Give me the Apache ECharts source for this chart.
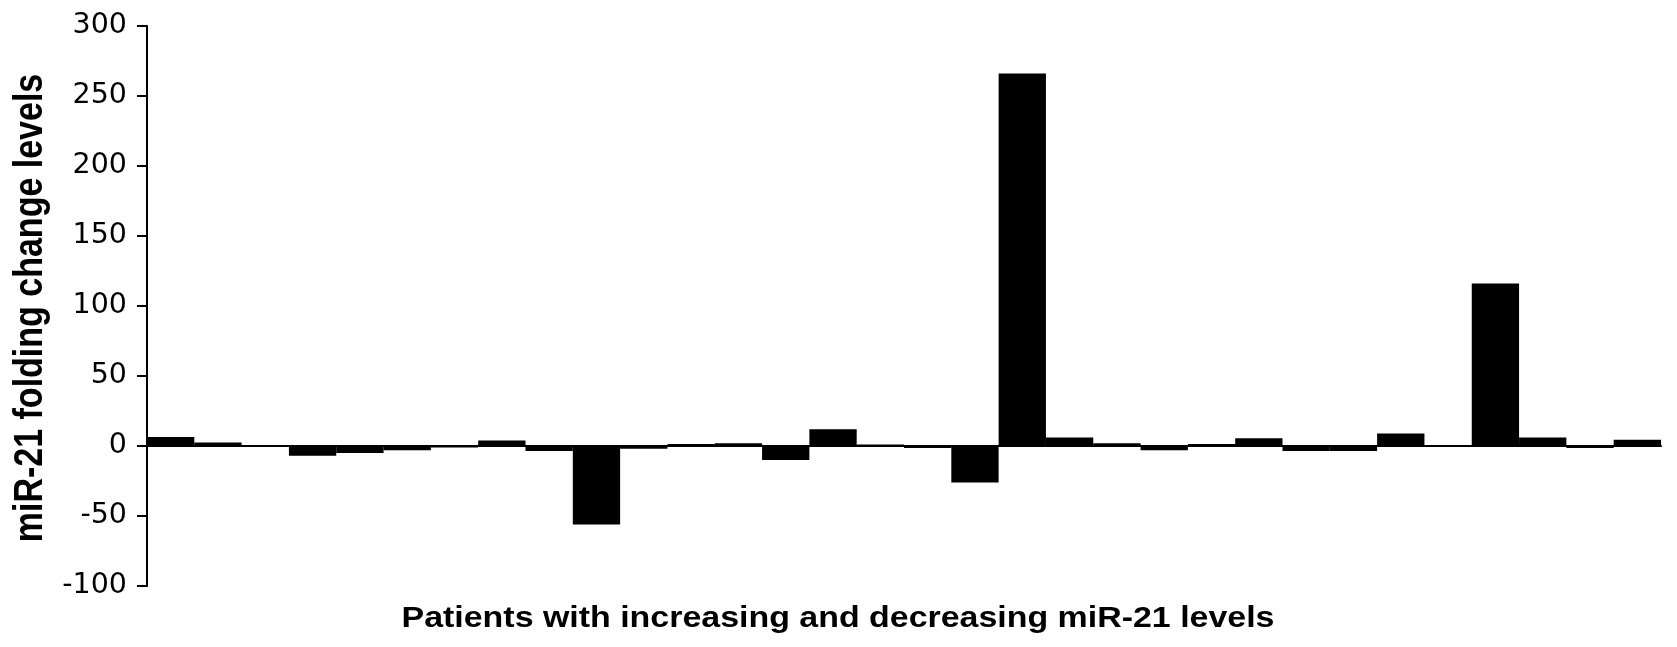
<!DOCTYPE html>
<html>
<head>
<meta charset="utf-8">
<script src="https://cdn.jsdelivr.net/npm/echarts@6/dist/echarts.min.js"></script>
<style>
html,body{margin:0;padding:0;background:#fff;}
#c{width:1677px;height:647px;}
</style>
</head>
<body>
<div id="c"></div>
<script>
var categories = ['P1','P2','P3','P4','P5','P6','P7','P8','P9','P10','P11','P12','P13','P14','P15','P16',
  'P17','P18','P19','P20','P21','P22','P23','P24','P25','P26','P27','P28','P29','P30','P31','P32'];
var values = [6.5, 2.5, -0.5, -7, -5, -3, -1, 4, -3.5, -56, -2, 1.5, 2, -10, 12, 1,
  -1.5, -26, 266, 6, 2, -3, 1.5, 5.5, -3.5, -3.5, 9, -0.5, 116, 6, -1.5, 4.5];
var yTicks = {min: -100, max: 300, interval: 50};
var yTitle = 'miR-21 folding change levels';
var xTitle = 'Patients with increasing and decreasing miR-21 levels';

var chart = echarts.init(document.getElementById('c'));
chart.setOption({
  backgroundColor: '#fff',
  animation: false,
  grid: {left: 147, right: 16, top: 26, bottom: 61, containLabel: false},
  xAxis: {
    type: 'category',
    data: categories,
    axisLine: {show: true, onZero: true, lineStyle: {color: '#000', width: 2}},
    axisTick: {show: false},
    axisLabel: {show: false},
    splitLine: {show: false}
  },
  yAxis: {
    type: 'value',
    min: yTicks.min, max: yTicks.max, interval: yTicks.interval,
    axisLine: {show: true, lineStyle: {color: '#000', width: 2}},
    axisTick: {show: true, length: 10, lineStyle: {color: '#000', width: 2}},
    axisLabel: {fontFamily: 'DejaVu Sans', fontSize: 28.5, color: '#000', margin: 20},
    splitLine: {show: false}
  },
  graphic: [{
    type: 'text',
    x: 838,
    y: 619,
    scaleX: 1.15,
    style: {text: xTitle, fontFamily: 'Liberation Sans', fontWeight: 'bold', fontSize: 29.5,
      fill: '#000', textAlign: 'center', textVerticalAlign: 'middle'}
  }, {
    type: 'text',
    x: 31,
    y: 308,
    rotation: Math.PI / 2,
    scaleY: 1.18,
    style: {text: yTitle, fontFamily: 'Liberation Sans', fontWeight: 'bold', fontSize: 34,
      fill: '#000', textAlign: 'center', textVerticalAlign: 'middle'}
  }],
  series: [{
    type: 'bar',
    data: values,
    barCategoryGap: '0%',
    itemStyle: {color: '#000'}
  }]
});
</script>
</body>
</html>
